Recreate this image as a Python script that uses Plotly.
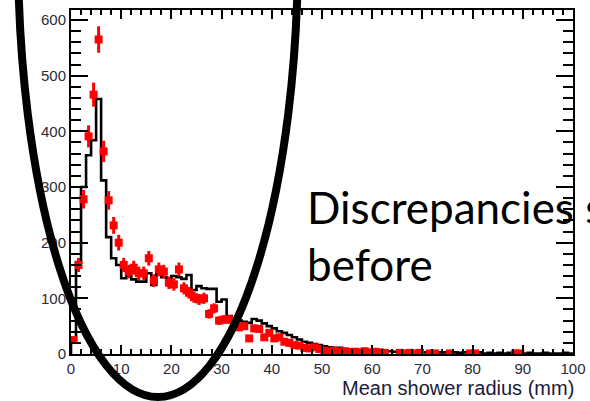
import numpy as np
import plotly.graph_objects as go

# ---------------- data (1 mm bins, 0..100 mm) ----------------
bin_low_mm = list(range(0, 100))

sim_counts = [
    25, 165, 300, 357, 384, 458, 312, 210, 172, 160,
    136, 140, 134, 130, 130, 145, 124, 145, 138, 136,
    140, 138, 135, 142, 115, 122, 118, 117, 117, 94,
    98, 68, 62, 60, 58, 56, 63, 60, 55, 50,
    46, 41, 38, 34, 30, 26, 22, 20, 18, 16,
    14, 12, 11, 11, 9, 8, 8, 7, 7, 6,
    6, 5, 5, 5, 4, 5, 4, 4, 3, 4,
    3, 3, 4, 3, 3, 2, 3, 2, 3, 2,
    2, 3, 1, 2, 1, 2, 1, 2, 2, 1,
    1, 2, 1, 1, 2, 1, 1, 1, 2, 1,
]

data_counts = [
    25, 160, 278, 391, 466, 565, 364, 276, 231, 200,
    160, 148, 155, 145, 145, 172, 132, 152, 148, 128,
    125, 152, 118, 110, 102, 98, 100, 72, 82, 60,
    62, 62, 52, 48, 50, 28, 46, 45, 30, 38,
    28, 30, 22, 20, 16, 15, 11, 10, 12, 9,
    6, 5, 6, 4, 5, 3, 4, 3, 5, 3,
    4, 3, 2, 0, 0, 2, 1, 2, 1, 2,
    0, 1, 1, 0, 0, 1, 0, 0, 0, 1,
    1, 0, 0, 0, 0, 0, 0, 0, 1, 1,
    0, 0, 0, 0, 0, 0, 0, 0, 0, 0,
]

x_ticks = [0, 10, 20, 30, 40, 50, 60, 70, 80, 90, 100]
y_ticks = [0, 100, 200, 300, 400, 500, 600]
x_title = "Mean shower radius (mm)"
note_text = "Discrepancies seen<br>before"

# ---------------- derived ----------------
bin_width = 1.0
edges = [b for b in bin_low_mm] + [bin_low_mm[-1] + bin_width]
centers = [b + bin_width / 2 for b in bin_low_mm]

step_x = [edges[0]] + edges
step_y = [0] + sim_counts + [sim_counts[-1]]

data_y = [v if v > 0 else None for v in data_counts]
data_err = [float(np.sqrt(v)) if v > 0 else 0 for v in data_counts]

fig = go.Figure()

fig.add_trace(go.Scatter(
    x=step_x, y=step_y, mode="lines",
    line=dict(shape="hv", color="black", width=2.6),
    hoverinfo="skip", showlegend=False,
))

fig.add_trace(go.Scatter(
    x=centers, y=data_y, mode="markers",
    marker=dict(symbol="square", size=8, color="#ff0000", line=dict(width=0)),
    error_y=dict(type="data", array=data_err, visible=True,
                 color="#ff0000", thickness=3, width=0),
    showlegend=False,
))

tickfont = dict(family="Liberation Sans, Arial, sans-serif", size=15, color="#2a2a3a")

fig.update_xaxes(
    range=[0, 100], tickvals=x_ticks, ticktext=[str(t) for t in x_ticks],
    showline=True, linecolor="black", linewidth=2, mirror="ticks",
    ticks="inside", ticklen=9, tickwidth=1.5, tickcolor="black",
    minor=dict(ticks="inside", ticklen=5, dtick=2, tickwidth=1.5, tickcolor="black"),
    showgrid=False, zeroline=False, tickfont=tickfont, automargin=False,
)
fig.update_yaxes(
    range=[0, 618], tickvals=y_ticks, ticktext=[str(t) for t in y_ticks],
    showline=True, linecolor="black", linewidth=2, mirror="ticks",
    ticks="inside", ticklen=17, tickwidth=1.5, tickcolor="black",
    minor=dict(ticks="inside", ticklen=10, dtick=20, tickwidth=1.5, tickcolor="black"),
    showgrid=False, zeroline=False, tickfont=tickfont, automargin=False,
)

fig.add_annotation(
    text=x_title, xref="paper", yref="paper", x=1.0, y=-0.099, xshift=3,
    xanchor="right", yanchor="middle", showarrow=False,
    font=dict(family="Liberation Sans, Arial, sans-serif", size=20, color="#1a1a3a"),
)

fig.add_annotation(
    text=note_text, xref="paper", yref="paper", x=0.466, y=0.3445,
    xanchor="left", yanchor="middle", align="left", showarrow=False,
    font=dict(family="Lato, 'Open Sans', sans-serif", size=44, color="black"),
)

fig.add_shape(
    type="circle", xref="paper", yref="paper",
    x0=-0.1056, x1=0.4522, y0=-0.125, y1=2.474,
    line=dict(color="black", width=8), layer="above",
)

fig.update_layout(
    width=590, height=401,
    margin=dict(l=71, r=17, t=10, b=47),
    paper_bgcolor="white", plot_bgcolor="white",
    showlegend=False,
)

fig.write_html("out.html", config={"displayModeBar": False},
               post_script="document.body.style.margin='0px';")
